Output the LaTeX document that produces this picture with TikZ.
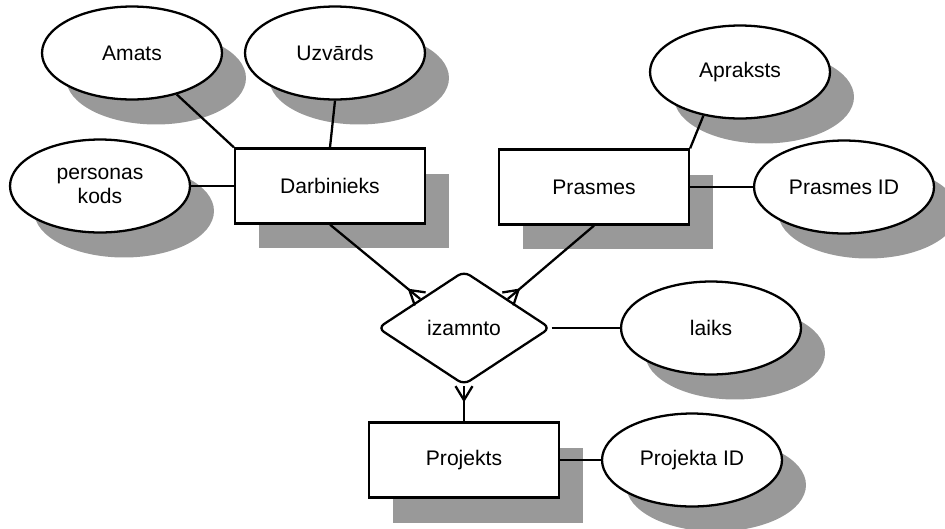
\documentclass[tikz,border=0pt]{standalone}
\usepackage{fontspec}
\setmainfont{Liberation Sans}
\usepackage{tikz}
\usetikzlibrary{shapes.geometric,shadows,calc}

\begin{document}
\begin{tikzpicture}[x=0.02cm, y=-0.02cm,
    every node/.style={font=\fontsize{12}{14}\selectfont, align=center},
    shade/.style={general shadow={fill=black!40, shadow xshift=0.48cm,
                  shadow yshift=-0.5cm}},
    entity/.style={draw, line width=1.3pt, fill=white, rectangle,
                   minimum width=3.8cm, minimum height=1.5cm, shade},
    attr/.style={draw, line width=1.3pt, fill=white, ellipse, inner sep=0pt,
                 minimum width=3.6cm, minimum height=1.86cm, shade},
    relation/.style={draw, line width=1.3pt, fill=white, diamond,
                     rounded corners=4pt, inner sep=0pt,
                     minimum width=3.46cm, minimum height=2.28cm},
    link/.style={line width=1.3pt}]

    \useasboundingbox (0,0) rectangle (945,528);

    % Entities
    \node[entity] (darb) at (330,186) {Darbinieks};
    \node[entity] (pras) at (594,187) {Prasmes};
    \node[entity] (proj) at (464,460) {Projekts};

    % Relationship
    \node[relation] (rel) at (464,328) {izamnto};

    % Attributes
    \node[attr] (amats) at (132,53) {Amats};
    \node[attr] (uzv) at (335,53) {Uzvārds};
    \node[attr] (pers) at (100,186) {personas\\kods};
    \node[attr] (apr) at (740,72) {Apraksts};
    \node[attr] (prid) at (844,187) {Prasmes ID};
    \node[attr] (laiks) at (711,328) {laiks};
    \node[attr] (prjid) at (692,460) {Projekta ID};

    % Attribute links
    \draw[link] (amats) -- (darb.north west);
    \draw[link] (uzv.south) -- (darb.north);
    \draw[link] (pers) -- (darb);
    \draw[link] (apr.-130) -- (pras.north east);
    \draw[link] (pras) -- (prid);
    \draw[link] (rel) -- (laiks);
    \draw[link] (proj) -- (prjid);

    % Relationship links
    \draw[link] (darb.south) -- (rel.north west);
    \draw[link] (pras.south) -- (rel.north east);
    \draw[link] (proj.north) -- (rel.south);

    % Crow's feet
    \foreach \e/\s in {rel.north west/darb.south, rel.north east/pras.south,
                       rel.south/proj.north}
        \draw[link] ($(\e)!0.17cm!90:(\s)$) -- ($(\e)!0.28cm!(\s)$)
            -- ($(\e)!0.17cm!-90:(\s)$);
\end{tikzpicture}
\end{document}
